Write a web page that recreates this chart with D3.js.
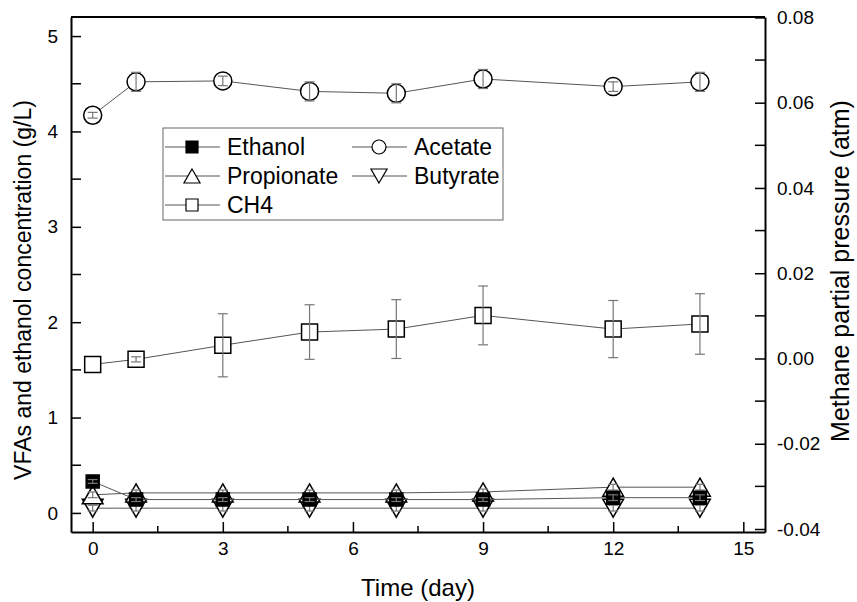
<!DOCTYPE html>
<html>
<head>
<meta charset="utf-8">
<script src="https://cdn.jsdelivr.net/npm/d3@7"></script>
<style>
	body { margin: 0; background: #fff; }
	svg { display: block; font-family: 'Liberation Sans', Arial, sans-serif; }
</style>
</head>
<body>
<svg></svg>
<script>
const width = 857;
const height = 602;

// data
const days = [0, 1, 3, 5, 7, 9, 12, 14];
const ethanol = [0.33, 0.14, 0.14, 0.14, 0.14, 0.14, 0.16, 0.16];
const ethanolErr = [0.02, 0.02, 0.02, 0.02, 0.02, 0.02, 0.03, 0.03];
const acetate = [4.17, 4.52, 4.53, 4.42, 4.4, 4.55, 4.47, 4.52];
const acetateErr = [0.03, 0.1, 0.05, 0.1, 0.1, 0.1, 0.05, 0.1];
const propionate = [0.19, 0.21, 0.21, 0.21, 0.21, 0.22, 0.27, 0.27];
const propionateErr = [0.03, 0.03, 0.03, 0.03, 0.03, 0.03, 0.03, 0.03];
const butyrate = [0.05, 0.05, 0.05, 0.05, 0.05, 0.05, 0.05, 0.05];
const butyrateErr = [0.03, 0.03, 0.03, 0.03, 0.03, 0.03, 0.03, 0.03];
const ch4 = [-0.0014, -0.0002, 0.0031, 0.0062, 0.0069, 0.0101, 0.0069, 0.0081];
const ch4Err = [0, 0.0006, 0.0074, 0.0064, 0.0069, 0.0069, 0.0067, 0.0071];

const xTicks = [0, 3, 6, 9, 12, 15];
const yTicks = [0, 1, 2, 3, 4, 5];
const y2Ticks = [-0.04, -0.02, 0, 0.02, 0.04, 0.06, 0.08];

const m = { left: 71, right: 765, top: 17, bottom: 532 };

const svg = d3.select('svg').attr('width', width).attr('height', height);

const x = d3.scaleLinear().domain([-0.5, 15.5]).range([m.left, m.right]);
const y = d3.scaleLinear().domain([-0.2, 5.2]).range([m.bottom, m.top]);
const y2 = d3.scaleLinear().domain([-0.0407, 0.0801]).range([m.bottom, m.top]);

// marker shapes
function markerPath(type, s) {
	if (type === 'square') return d3.symbol(d3.symbolSquare, s * s)();
	if (type === 'circle') return d3.symbol(d3.symbolCircle, Math.PI * (s / 2) * (s / 2))();
	const w = s * 1.15, h = s;
	if (type === 'up') return d3.line()([[0, -h / 2], [w / 2, h / 2], [-w / 2, h / 2]]) + 'Z';
	return d3.line()([[0, h / 2], [w / 2, -h / 2], [-w / 2, -h / 2]]) + 'Z';
}

const series = [
	{ name: 'CH4', values: ch4, err: ch4Err, scale: y2, type: 'square', fill: '#fff', size: 16 },
	{ name: 'Acetate', values: acetate, err: acetateErr, scale: y, type: 'circle', fill: '#fff', size: 18 },
	{ name: 'Butyrate', values: butyrate, err: butyrateErr, scale: y, type: 'down', fill: '#fff', size: 18 },
	{ name: 'Propionate', values: propionate, err: propionateErr, scale: y, type: 'up', fill: '#fff', size: 18 },
	{ name: 'Ethanol', values: ethanol, err: ethanolErr, scale: y, type: 'square', fill: '#000', size: 13 },
];

// axes
const fmt2 = (d) => d3.format('.2f')(d).replace('\u2212', '-');
const axisLeft = d3.axisLeft(y).tickValues(yTicks).tickSizeInner(-10).tickSizeOuter(0).tickPadding(13).tickFormat(d3.format('d'));
const axisRight = d3.axisRight(y2).tickValues(y2Ticks).tickSizeInner(-10).tickSizeOuter(0).tickPadding(12).tickFormat(fmt2);
const axisBottom = d3.axisBottom(x).tickValues(xTicks).tickSizeInner(-10).tickSizeOuter(0).tickPadding(10).tickFormat(d3.format('d'));

const gl = svg.append('g').attr('transform', `translate(${m.left},0)`).call(axisLeft);
const minorY = [0.5, 1.5, 2.5, 3.5, 4.5];
gl.selectAll('.minor').data(minorY).enter().append('line')
	.attr('x1', 0).attr('x2', 10).attr('y1', (d) => y(d)).attr('y2', (d) => y(d))
	.attr('stroke', '#000').attr('stroke-width', 1.5);

const gr = svg.append('g').attr('transform', `translate(${m.right},0)`).call(axisRight);
const minorY2 = [-0.03, -0.01, 0.01, 0.03, 0.05, 0.07];
gr.selectAll('.minor').data(minorY2).enter().append('line')
	.attr('x1', 0).attr('x2', -10).attr('y1', (d) => y2(d)).attr('y2', (d) => y2(d))
	.attr('stroke', '#000').attr('stroke-width', 1.5);

const gb = svg.append('g').attr('transform', `translate(0,${m.bottom})`).call(axisBottom);
const minorX = [1.5, 4.5, 7.5, 10.5, 13.5];
gb.selectAll('.minor').data(minorX).enter().append('line')
	.attr('x1', (d) => x(d)).attr('x2', (d) => x(d)).attr('y1', 0).attr('y2', -6)
	.attr('stroke', '#000').attr('stroke-width', 1.5);

[gl, gr, gb].forEach((g) => {
	g.select('.domain').attr('stroke', '#000').attr('stroke-width', 2);
	g.selectAll('.tick line').attr('stroke', '#000').attr('stroke-width', 1.5);
	g.selectAll('.tick text').attr('font-size', 19).attr('fill', '#000').attr('font-family', "'Liberation Sans', Arial, sans-serif");
});

// frame top
svg.append('line')
	.attr('x1', m.left).attr('x2', m.right).attr('y1', m.top).attr('y2', m.top)
	.attr('stroke', '#000').attr('stroke-width', 2);

// axis titles
svg.append('text')
	.attr('x', 418).attr('y', 596)
	.attr('text-anchor', 'middle').attr('font-size', 24)
	.text('Time (day)');

svg.append('text')
	.attr('transform', 'translate(31,290) rotate(-90)')
	.attr('text-anchor', 'middle').attr('font-size', 23)
	.text('VFAs and ethanol concentration (g/L)');

svg.append('text')
	.attr('transform', 'translate(849,271) rotate(-90)')
	.attr('text-anchor', 'middle').attr('font-size', 25)
	.text('Methane partial pressure (atm)');

// series
const plot = svg.append('g');
series.forEach((s) => {
	const pts = days.map((d, i) => ({ day: d, v: s.values[i], e: s.err[i] }));
	const g = plot.append('g');

	g.append('path')
		.datum(pts)
		.attr('fill', 'none')
		.attr('stroke', '#555')
		.attr('stroke-width', 1)
		.attr('d', d3.line().x((d) => x(d.day)).y((d) => s.scale(d.v)));

	g.selectAll('path.mk')
		.data(pts)
		.enter()
		.append('path')
		.attr('class', 'mk')
		.attr('transform', (d) => `translate(${x(d.day)},${s.scale(d.v)})`)
		.attr('d', markerPath(s.type, s.size))
		.attr('fill', s.fill)
		.attr('stroke', '#000')
		.attr('stroke-width', 1.5);

	const eb = g.selectAll('g.err').data(pts.filter((d) => d.e > 0)).enter().append('g');
	eb.append('line')
		.attr('x1', (d) => x(d.day)).attr('x2', (d) => x(d.day))
		.attr('y1', (d) => s.scale(d.v - d.e)).attr('y2', (d) => s.scale(d.v + d.e));
	eb.append('line')
		.attr('x1', (d) => x(d.day) - 5).attr('x2', (d) => x(d.day) + 5)
		.attr('y1', (d) => s.scale(d.v + d.e)).attr('y2', (d) => s.scale(d.v + d.e));
	eb.append('line')
		.attr('x1', (d) => x(d.day) - 5).attr('x2', (d) => x(d.day) + 5)
		.attr('y1', (d) => s.scale(d.v - d.e)).attr('y2', (d) => s.scale(d.v - d.e));
	eb.selectAll('line').attr('stroke', '#777').attr('stroke-width', 1.2);
});

// legend
const legend = svg.append('g');
legend.append('rect')
	.attr('x', 163).attr('y', 128).attr('width', 340).attr('height', 92)
	.attr('fill', '#fff').attr('stroke', '#666').attr('stroke-width', 1);

const legendItems = [
	{ name: 'Ethanol', type: 'square', fill: '#000', size: 12, col: 0, row: 0 },
	{ name: 'Acetate', type: 'circle', fill: '#fff', size: 14, col: 1, row: 0 },
	{ name: 'Propionate', type: 'up', fill: '#fff', size: 14, col: 0, row: 1 },
	{ name: 'Butyrate', type: 'down', fill: '#fff', size: 14, col: 1, row: 1 },
	{ name: 'CH4', type: 'square', fill: '#fff', size: 12, col: 0, row: 2 },
];
const colX = [163, 350];
const rowY = [147, 176, 205];
legendItems.forEach((it) => {
	const lx = colX[it.col];
	const ly = rowY[it.row];
	legend.append('line')
		.attr('x1', lx + 2).attr('x2', lx + 57).attr('y1', ly).attr('y2', ly)
		.attr('stroke', '#555').attr('stroke-width', 1);
	legend.append('path')
		.attr('transform', `translate(${lx + 29},${ly})`)
		.attr('d', markerPath(it.type, it.size))
		.attr('fill', it.fill).attr('stroke', '#000').attr('stroke-width', 1.2);
	legend.append('text')
		.attr('x', lx + 64).attr('y', ly + 8)
		.attr('font-size', 23)
		.text(it.name);
});
</script>
</body>
</html>
